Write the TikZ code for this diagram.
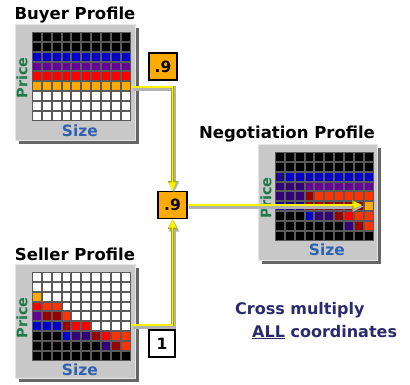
\documentclass[tikz,border=0pt]{standalone}
\usepackage{fontspec}
\setmainfont{DejaVu Sans}
\usepackage{xcolor}
\usetikzlibrary{arrows.meta}

\definecolor{cK}{HTML}{000000}
\definecolor{cB}{HTML}{0000CC}
\definecolor{cP}{HTML}{660099}
\definecolor{cR}{HTML}{FF0000}
\definecolor{cO}{HTML}{FFAA00}
\definecolor{cW}{HTML}{FFFFFF}
\definecolor{cQ}{HTML}{FF3300}
\definecolor{cD}{HTML}{990000}
\definecolor{cV}{HTML}{330077}
\definecolor{cN}{HTML}{1A0A88}
\definecolor{panelgray}{HTML}{C8C8C8}
\definecolor{gridgray}{HTML}{5A5A5A}
\definecolor{pricegreen}{HTML}{1E7A4A}
\definecolor{sizeblue}{HTML}{2F62B0}
\definecolor{navytext}{HTML}{2A2A6E}
\definecolor{yedgecol}{HTML}{A8A800}

\tikzset{
  panel/.style={fill=panelgray,draw=black!10,line width=0.8pt},
  panelshadow/.style={fill=black!60},
  titletext/.style={font=\bfseries\fontsize{16.5}{16.5}\selectfont},
  pricelab/.style={font=\bfseries\fontsize{14.5}{14.5}\selectfont,text=pricegreen,rotate=90},
  sizelab/.style={font=\bfseries\fontsize{15.5}{15.5}\selectfont,text=sizeblue},
  valbox/.style={draw=black,line width=1.2pt,minimum width=28pt,minimum height=27pt,
    inner sep=0pt,font=\bfseries\fontsize{15.5}{15.5}\selectfont},
  crosstext/.style={font=\bfseries\fontsize{16}{16}\selectfont,text=navytext,inner sep=0pt},
  yshadow/.style={draw=black!30,line width=4.5pt,
    transform canvas={shift={(1.5pt,-1.5pt)}},-{Triangle[length=11pt,width=10pt]}},
  yedge/.style={draw=yedgecol,line width=2.8pt,-{Triangle[length=10pt,width=9pt]}},
  ycore/.style={draw=yellow,line width=1.9pt,-{Triangle[length=8.5pt,width=7pt]}},
}

% grid of 10x9 cells: x, y of top left corner, rows of colours
\newcommand{\profilegrid}[3]{%
  \fill[gridgray] (#1,#2) rectangle ++(98.5,88.65);
  \foreach \row [count=\r] in {#3}
    \foreach \col [count=\i] in \row
      \fill[fill=\col] ({#1+(\i-1)*9.85+1},{#2+(\r-1)*9.85+1}) rectangle ++(7.85,7.85);
}
% yellow connector drawn in three passes
\newcommand{\yconnect}[1]{%
  \draw[yshadow] #1;
  \draw[yedge] #1;
  \draw[ycore] #1;
}

\begin{document}
\begin{tikzpicture}[x=1pt,y=-1pt]
\useasboundingbox (0,0) rectangle (410,385);

% --- Buyer profile ---
\node[titletext] (buytitle) at (75,15) {Buyer Profile};
\fill[panelshadow] (19,28) rectangle (139,144);
\draw[panel] (15,24) rectangle (135,140);
\profilegrid{32}{32}{
  {cK,cK,cK,cK,cK,cK,cK,cK,cK,cK},
  {cK,cK,cK,cK,cK,cK,cK,cK,cK,cK},
  {cB,cB,cB,cB,cB,cB,cB,cB,cB,cB},
  {cP,cP,cP,cP,cP,cP,cP,cP,cP,cP},
  {cR,cR,cR,cR,cR,cR,cR,cR,cR,cR},
  {cO,cO,cO,cO,cO,cO,cO,cO,cO,cO},
  {cW,cW,cW,cW,cW,cW,cW,cW,cW,cW},
  {cW,cW,cW,cW,cW,cW,cW,cW,cW,cW},
  {cW,cW,cW,cW,cW,cW,cW,cW,cW,cW}}
\node[pricelab] (buyprice) at (22,78) {Price};
\node[sizelab] (buysize) at (80,131) {Size};

% --- Seller profile ---
\node[titletext] (selltitle) at (75,254) {Seller Profile};
\fill[panelshadow] (19,268) rectangle (139,382);
\draw[panel] (15,264) rectangle (135,378);
\profilegrid{32}{272}{
  {cW,cW,cW,cW,cW,cW,cW,cW,cW,cW},
  {cW,cW,cW,cW,cW,cW,cW,cW,cW,cW},
  {cO,cW,cW,cW,cW,cW,cW,cW,cW,cW},
  {cR,cQ,cQ,cW,cW,cW,cW,cW,cW,cW},
  {cP,cD,cD,cQ,cW,cW,cW,cW,cW,cW},
  {cB,cB,cB,cD,cR,cR,cW,cW,cW,cW},
  {cK,cK,cK,cB,cV,cV,cD,cR,cQ,cQ},
  {cK,cK,cK,cK,cK,cK,cK,cV,cD,cQ},
  {cK,cK,cK,cK,cK,cK,cK,cK,cK,cK}}
\node[pricelab] (sellprice) at (22,318) {Price};
\node[sizelab] (sellsize) at (80,370) {Size};

% --- Negotiation profile ---
\node[titletext] (negtitle) at (287,134) {Negotiation Profile};
\fill[panelshadow] (262,148) rectangle (381,264);
\draw[panel] (258,144) rectangle (377,260);
\profilegrid{275}{152}{
  {cK,cK,cK,cK,cK,cK,cK,cK,cK,cK},
  {cK,cK,cK,cK,cK,cK,cK,cK,cK,cK},
  {cN,cB,cB,cB,cB,cB,cB,cB,cB,cB},
  {cV,cV,cV,cP,cP,cP,cP,cP,cP,cP},
  {cV,cV,cV,cD,cQ,cQ,cQ,cQ,cQ,cQ},
  {cN,cN,cN,cD,cD,cD,cD,cD,cD,cO},
  {cK,cK,cK,cB,cV,cV,cD,cR,cQ,cQ},
  {cK,cK,cK,cK,cK,cK,cK,cV,cD,cQ},
  {cK,cK,cK,cK,cK,cK,cK,cK,cK,cK}}
\node[pricelab] (negprice) at (266,198) {Price};
\node[sizelab] (negsize) at (327,250) {Size};

% --- values and connectors ---
\node[valbox,fill=cO] (buyval) at (163,66.5) {.9};
\node[valbox,fill=cO,minimum width=29pt] (midval) at (172.5,205) {.9};
\node[valbox,fill=white,minimum width=26pt] (sellval) at (162,343.5) {1};
\coordinate (buyend) at (131,87);
\coordinate (sellend) at (131,325);
\coordinate (negend) at (362,205);
\yconnect{(buyend) -| (midval.north)}
\yconnect{(sellend) -| (midval.south)}
\yconnect{(midval.east) -- (negend)}

% --- note ---
\node[crosstext,anchor=west] (crossa) at (235,310) {Cross multiply};
\node[crosstext,anchor=west] (crossb) at (252,332) {\underline{ALL} coordinates};
\end{tikzpicture}
\end{document}
